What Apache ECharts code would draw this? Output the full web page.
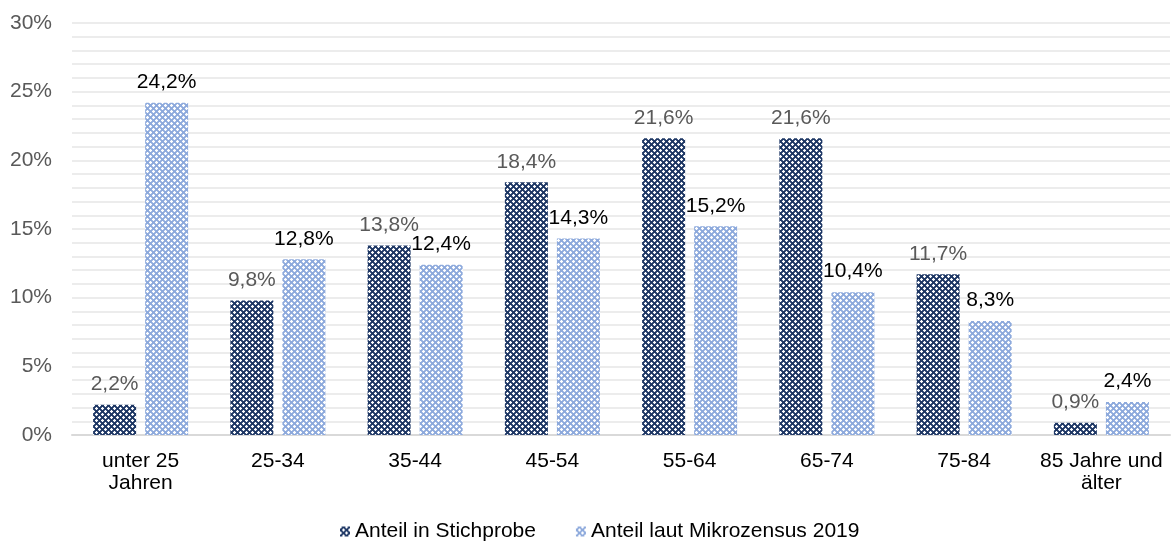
<!DOCTYPE html>
<html>
<head>
<meta charset="utf-8">
<script src="https://cdn.jsdelivr.net/npm/echarts@6/dist/echarts.min.js"></script>
<style>
html,body{margin:0;padding:0;background:#fff;}
#chart{width:1173px;height:542px;}
</style>
</head>
<body>
<div id="chart"></div>
<script>
var categories = ['unter 25\nJahren', '25-34', '35-44', '45-54', '55-64', '65-74', '75-84', '85 Jahre und\nälter'];
var seriesNames = ['Anteil in Stichprobe', 'Anteil laut Mikrozensus 2019'];
var stichprobe = [2.2, 9.8, 13.8, 18.4, 21.6, 21.6, 11.7, 0.9];
var mikrozensus = [24.2, 12.8, 12.4, 14.3, 15.2, 10.4, 8.3, 2.4];
var yTicks = [0, 5, 10, 15, 20, 25, 30];

function makePattern(base, light) {
  var c = document.createElement('canvas');
  c.width = 6; c.height = 6;
  var g = c.getContext('2d');
  g.fillStyle = base; g.fillRect(0, 0, 6, 6);
  g.fillStyle = '#ffffff';
  var w = [[0,0],[1,0],[5,0],[0,1],[0,5],[3,3],[2,3],[4,3],[3,2],[3,4]];
  w.forEach(function (p) { g.fillRect(p[0], p[1], 1, 1); });
  g.fillStyle = light;
  var l = [[1,1],[5,5],[1,5],[5,1],[2,2],[4,4],[2,4],[4,2]];
  l.forEach(function (p) { g.fillRect(p[0], p[1], 1, 1); });
  return { image: c, repeat: 'repeat' };
}

var darkPat = makePattern('#1f3864', '#4a5f88');
var lightPat = makePattern('#8eaadc', '#a9bfe6');

function fmt(v) { return String(v.toFixed(1)).replace('.', ',') + '%'; }

var FONT = 'Liberation Sans, Arial, sans-serif';
var FS = 21;
var chart = echarts.init(document.getElementById('chart'), null, { renderer: 'canvas' });
chart.setOption({
  animation: false,
  textStyle: { fontFamily: FONT },
  grid: { left: 72, right: 3, top: 23, bottom: 107, containLabel: false },
  legend: {
    top: 516,
    left: 335,
    icon: 'rect',
    itemWidth: 10,
    itemHeight: 10,
    itemGap: 40,
    textStyle: { fontSize: FS, color: '#000', fontFamily: FONT, padding: [0, 0, 0, 0] },
    data: seriesNames
  },
  xAxis: {
    type: 'category',
    data: categories,
    axisLine: { lineStyle: { color: '#d9d9d9', width: 2 } },
    axisTick: { show: false },
    axisLabel: { color: '#000', fontSize: FS, lineHeight: 22, margin: 15, interval: 0 }
  },
  yAxis: {
    type: 'value',
    min: 0, max: 30, interval: 1,
    axisLine: { show: false },
    axisTick: { show: false },
    axisLabel: {
      color: '#595959', fontSize: FS, margin: 20,
      formatter: function (v) { return yTicks.indexOf(v) >= 0 ? v + '%' : ''; }
    },
    splitLine: { lineStyle: { color: '#ececec', width: 2 } }
  },
  series: [
    {
      name: seriesNames[0], type: 'bar', data: stichprobe,
      barWidth: 43, barGap: '21%',
      itemStyle: { color: darkPat },
      label: { show: true, position: 'top', distance: 10, color: '#595959', fontSize: FS, fontFamily: FONT, formatter: function (p) { return fmt(p.value); } }
    },
    {
      name: seriesNames[1], type: 'bar', data: mikrozensus,
      barWidth: 43,
      itemStyle: { color: lightPat },
      label: { show: true, position: 'top', distance: 10, color: '#000', fontSize: FS, fontFamily: FONT, formatter: function (p) { return fmt(p.value); } }
    }
  ]
});
</script>
</body>
</html>
